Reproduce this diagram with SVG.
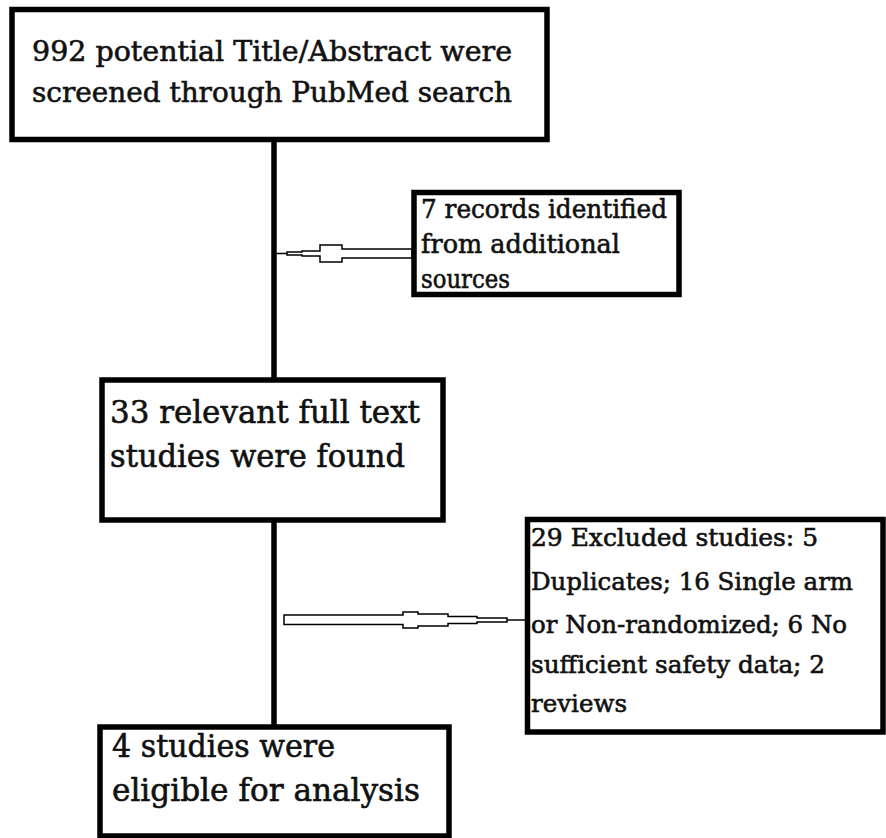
<svg xmlns="http://www.w3.org/2000/svg" width="886" height="838" viewBox="0 0 886 838">
<style>
.box{fill:#fff;stroke:#000;stroke-width:5.5}
.t{font-family:"DejaVu Serif","Liberation Serif",serif;fill:#111;stroke:#111;stroke-width:0.6}
.vline{stroke:#000;stroke-width:5.5;fill:none}
.arr{fill:#fff;stroke:#000;stroke-width:1.5}
.thin{stroke:#000;stroke-width:1.5}
</style>
<rect width="886" height="838" fill="#fff"/>
<g id="connectors">
<line class="vline" x1="274" y1="140" x2="274" y2="382"/>
<line class="vline" x1="274" y1="518" x2="274" y2="729"/>
<polygon class="arr" points="412,249 342,249 342,245 320,245 320,251 302,251 302,252 287,252 287,255 302,255 302,256 320,256 320,262 342,262 342,258 412,258"/>
<line class="thin" x1="276" y1="253.5" x2="287" y2="253.5"/>
<polygon class="arr" points="284,615 403,615 403,612 418,612 418,614 448,614 448,616.5 477,616.5 477,618 507,618 507,622 477,622 477,623.5 448,623.5 448,626 418,626 418,628 403,628 403,624.5 284,624.5"/>
<line class="thin" x1="507" y1="620" x2="525" y2="620"/>
</g>
<g id="node-screened">
<rect class="box" x="12" y="9.5" width="535" height="130"/>
<text class="t" font-size="28" x="32" y="61" textLength="480" lengthAdjust="spacingAndGlyphs">992 potential Title/Abstract were</text>
<text class="t" font-size="28" x="32" y="102" textLength="480" lengthAdjust="spacingAndGlyphs">screened through PubMed search</text>
</g>
<g id="node-additional">
<rect class="box" x="414" y="192.5" width="265" height="102" stroke-width="5"/>
<text class="t" font-size="26" x="421" y="218" textLength="246" lengthAdjust="spacingAndGlyphs">7 records identified</text>
<text class="t" font-size="26" x="421" y="253" textLength="199" lengthAdjust="spacingAndGlyphs">from additional</text>
<text class="t" font-size="26" x="421" y="288" textLength="89" lengthAdjust="spacingAndGlyphs">sources</text>
</g>
<g id="node-fulltext">
<rect class="box" x="102" y="380" width="341" height="140" stroke-width="6"/>
<text class="t" font-size="32" x="110" y="423" textLength="310" lengthAdjust="spacingAndGlyphs">33 relevant full text</text>
<text class="t" font-size="32" x="110" y="467" textLength="295" lengthAdjust="spacingAndGlyphs">studies were found</text>
</g>
<g id="node-excluded">
<rect class="box" x="527.5" y="519.5" width="355.5" height="212.5" stroke-width="5.5"/>
<text class="t" font-size="24" x="531" y="546" textLength="287" lengthAdjust="spacingAndGlyphs">29 Excluded studies: 5</text>
<text class="t" font-size="24" x="531" y="590" textLength="322" lengthAdjust="spacingAndGlyphs">Duplicates; 16 Single arm</text>
<text class="t" font-size="24" x="531" y="633" textLength="316" lengthAdjust="spacingAndGlyphs">or Non-randomized; 6 No</text>
<text class="t" font-size="24" x="531" y="673" textLength="294" lengthAdjust="spacingAndGlyphs">sufficient safety data; 2</text>
<text class="t" font-size="24" x="531" y="712" textLength="96" lengthAdjust="spacingAndGlyphs">reviews</text>
</g>
<g id="node-eligible">
<rect class="box" x="100" y="727" width="349" height="109" stroke-width="5.5"/>
<text class="t" font-size="32" x="112" y="757" textLength="223" lengthAdjust="spacingAndGlyphs">4 studies were</text>
<text class="t" font-size="32" x="112" y="801" textLength="308" lengthAdjust="spacingAndGlyphs">eligible for analysis</text>
</g>
</svg>
